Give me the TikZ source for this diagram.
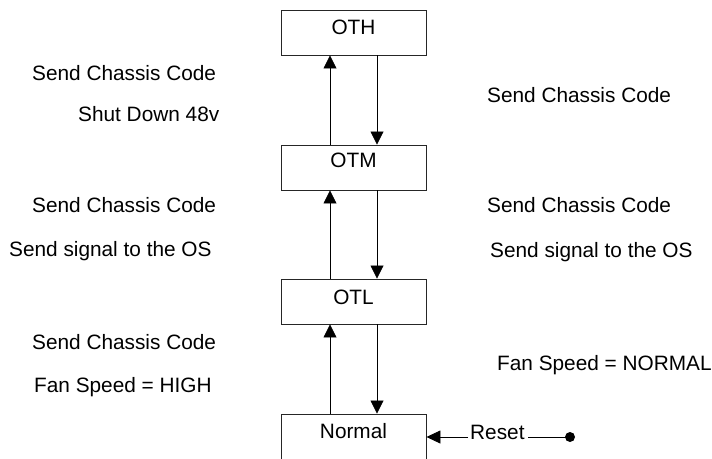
\documentclass[tikz,border=0pt]{standalone}
\usepackage{fontspec}
\setmainfont{Liberation Sans}
\usetikzlibrary{arrows.meta}
\begin{document}
\begin{tikzpicture}[x=1pt,y=-1pt,
  every node/.style={font=\fontsize{20.8}{25}\selectfont},
  box/.style={draw=black!85,line width=0.9pt,minimum width=145pt,minimum height=45pt,inner sep=0pt},
  lbl/.style={anchor=base,inner sep=0pt},
  txt/.style={anchor=base west,inner sep=0pt},
  arr/.style={line width=0.8pt,-{Triangle[length=13pt,width=13pt]}}]
\clip (0,0) rectangle (712,458);
\fill[white] (0,0) rectangle (712,458);
% state boxes
\node[box] (oth) at (353.5,32.5) {};
\node[box] (otm) at (353.5,167.5) {};
\node[box] (otl) at (353.5,301.5) {};
\node[box,minimum height=46pt] (nor) at (353.5,437) {};
\node[lbl] (othl) at ([yshift=-24.5pt]oth.north) {OTH};
\node[lbl] (otml) at ([yshift=-23pt]otm.north) {OTM};
\node[lbl] (otll) at ([yshift=-26pt]otl.north) {OTL};
\node[lbl] (norl) at ([yshift=-25pt]nor.north) {Normal};
% transitions
\draw[arr] ([xshift=-23.5pt]otm.north) -- ([xshift=-23.5pt]oth.south);
\draw[arr] ([xshift=23.5pt]oth.south) -- ([xshift=23.5pt]otm.north);
\draw[arr] ([xshift=-23.5pt]otl.north) -- ([xshift=-23.5pt]otm.south);
\draw[arr] ([xshift=23.5pt]otm.south) -- ([xshift=23.5pt]otl.north);
\draw[arr] ([xshift=-23.5pt]nor.north) -- ([xshift=-23.5pt]otl.south);
\draw[arr] ([xshift=23.5pt]otl.south) -- ([xshift=23.5pt]nor.north);
% reset
\coordinate (dot) at (570,437);
\fill (dot) circle (5pt);
\node[txt] (rst) at (470,439) {Reset};
\draw[line width=0.8pt] (dot) -- ([xshift=3pt]rst.east |- dot);
\draw[arr,-{Triangle[length=14pt,width=13pt]}] ([xshift=-2pt]rst.west |- dot) -- (nor.east |- dot);
% left annotations
\node[txt] (l1) at (32,80) {Send Chassis Code};
\node[txt] (l2) at (78,121) {Shut Down 48v};
\node[txt] (l3) at (32,212) {Send Chassis Code};
\node[txt] (l4) at (9,256) {Send signal to the OS};
\node[txt] (l5) at (32,349) {Send Chassis Code};
\node[txt] (l6) at (34,392) {Fan Speed = HIGH};
% right annotations
\node[txt] (r1) at (487,102) {Send Chassis Code};
\node[txt] (r2) at (487,212) {Send Chassis Code};
\node[txt] (r3) at (490,257) {Send signal to the OS};
\node[txt] (r4) at (497,370) {Fan Speed = NORMAL};
\end{tikzpicture}
\end{document}
